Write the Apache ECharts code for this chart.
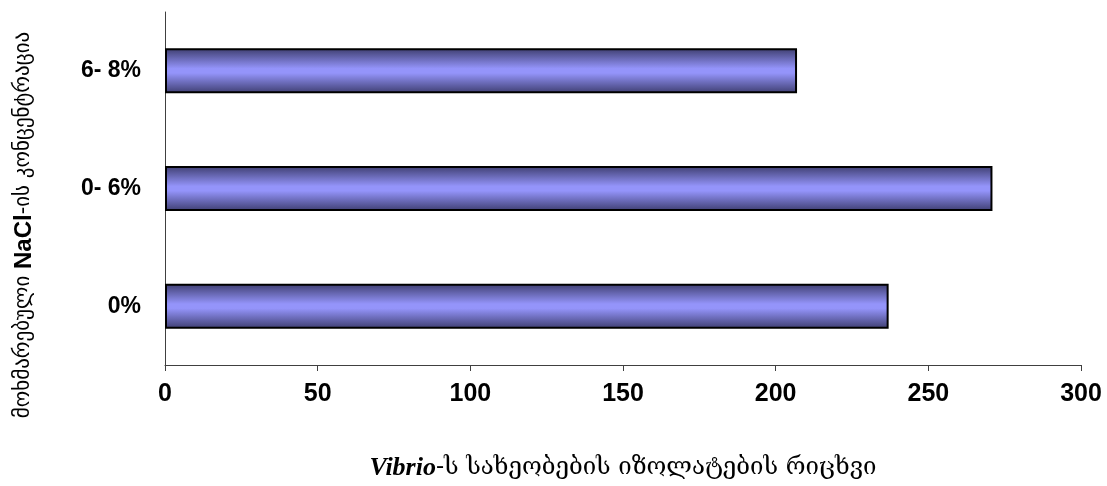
<!DOCTYPE html>
<html>
<head>
<meta charset="utf-8">
<script src="https://cdn.jsdelivr.net/npm/echarts@6/dist/echarts.min.js"></script>
<style>
  html, body { margin: 0; padding: 0; background: #fff; }
  #chart { width: 1107px; height: 486px; }
</style>
</head>
<body>
<div id="chart"></div>
<script>
// NaCl concentration groups, bottom to top
const categories = ['0%', '0- 6%', '6- 8%']
// number of Vibrio isolates
const isolates = [237, 271, 207]
const xTicks = { min: 0, max: 300, interval: 50 }

const chart = echarts.init(document.getElementById('chart'))

const barFill = new echarts.graphic.LinearGradient(0, 0, 0, 1, [
  { offset: 0, color: '#3e3e70' },
  { offset: 0.45, color: '#9494fa' },
  { offset: 0.55, color: '#9494fa' },
  { offset: 1, color: '#3e3e70' }
])

chart.setOption({
  animation: false,
  backgroundColor: '#fff',
  grid: { left: 165, right: 26, top: 12, bottom: 116 },
  // y axis title sits lower than the grid middle, so draw it by hand
  graphic: [
    {
      type: 'text',
      x: 24,
      y: 225,
      rotation: Math.PI / 2,
      style: {
        text: '{g|მოხმარებული }{b|NaCl}{g|-ის კონცენტრაცია}',
        align: 'center',
        verticalAlign: 'middle',
        rich: {
          g: { fontFamily: 'DejaVu Sans', fontSize: 21, fill: '#000' },
          b: { fontFamily: 'Liberation Sans', fontWeight: 'bold', fontSize: 24, fill: '#000' }
        }
      }
    }
  ],
  xAxis: {
    type: 'value',
    min: xTicks.min,
    max: xTicks.max,
    interval: xTicks.interval,
    splitLine: { show: false },
    axisLine: { show: true, lineStyle: { color: '#404040', width: 1 } },
    axisTick: { show: true, length: 6, lineStyle: { color: '#404040' } },
    axisLabel: {
      margin: 17,
      color: '#000',
      fontFamily: 'Liberation Sans',
      fontWeight: 'bold',
      fontSize: 25
    },
    name: '{i|Vibrio}{n|-ს სახეობების იზოლატების რიცხვი}',
    nameLocation: 'middle',
    nameGap: 90,
    nameTextStyle: {
      rich: {
        i: { fontFamily: 'Liberation Serif', fontStyle: 'italic', fontWeight: 'bold', fontSize: 26, color: '#000' },
        n: { fontFamily: 'DejaVu Serif', fontSize: 24, color: '#000' }
      }
    }
  },
  yAxis: {
    type: 'category',
    data: categories,
    axisLine: { show: true, lineStyle: { color: '#404040', width: 1 } },
    axisTick: { show: false },
    axisLabel: {
      margin: 24,
      color: '#000',
      fontFamily: 'Liberation Sans',
      fontWeight: 'bold',
      fontSize: 23
    }
  },
  series: [
    {
      type: 'bar',
      data: isolates,
      barWidth: 45,
      itemStyle: {
        color: barFill,
        borderColor: '#000',
        borderWidth: 2
      }
    }
  ]
})
</script>
</body>
</html>
